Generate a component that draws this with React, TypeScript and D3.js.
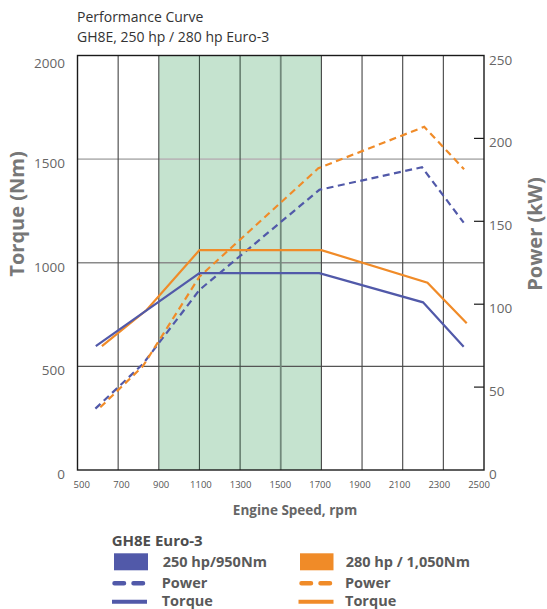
import React from "react";
import * as d3 from "d3";

const rpmTicks = [500, 700, 900, 1100, 1300, 1500, 1700, 1900, 2100, 2300, 2500];
const torqueTicks = [0, 500, 1000, 1500, 2000];
const powerTicks = [0, 50, 100, 150, 200, 250];
const bandRange = [900, 1700];

const torque250rpm = [590, 1100, 1690, 2200, 2400];
const torque250 = [598, 950, 950, 809, 595];
const power250rpm = [588, 822, 1100, 1690, 2195, 2400];
const power250 = [37, 64, 108.6, 169, 182.6, 149.2];

const torque280rpm = [620, 840, 1100, 1700, 2222, 2415];
const torque280 = [598, 772, 1061, 1061, 904, 708];
const power280rpm = [612, 822, 1100, 1685, 2206, 2402];
const power280 = [37.8, 62.7, 116.6, 182, 207, 181.4];

const BLUE = "#5159a9";
const ORANGE = "#f08b28";
const FONT = "'Open Sans', 'Noto Sans', sans-serif";

export default function App() {
  const W = 547, H = 609;
  const x = d3.scaleLinear().domain([500, 2500]).range([77.5, 484]);
  const xLab = d3.scaleLinear().domain([500, 2500]).range([81.7, 479]);
  const yT = d3.scaleLinear().domain([0, 2000]).range([470, 55.5]);
  const yP = d3.scaleLinear().domain([0, 250]).range([470, 55.5]);

  const lineT = d3.line<[number, number]>().x(d => x(d[0])).y(d => yT(d[1]));
  const lineP = d3.line<[number, number]>().x(d => x(d[0])).y(d => yP(d[1]));
  const zip = (a: number[], b: number[]) => a.map((v, i) => [v, b[i]] as [number, number]);

  const hGridStyle: Record<number, { c: string; w: number }> = {
    500: { c: "#555", w: 1.2 },
    1000: { c: "#8a8a8a", w: 1.3 },
    1500: { c: "#b8b8b8", w: 1.6 },
  };

  return (
    <svg width={W} height={H} style={{ position: "absolute", left: 0, top: 0, background: "#fff" }} fontFamily={FONT}>
      <text x={77} y={22} fontSize={14} fill="#333">Performance Curve</text>
      <text x={77} y={41.5} fontSize={14} fill="#333">GH8E, 250 hp / 280 hp Euro-3</text>

      {/* green band */}
      <rect x={x(bandRange[0])} y={yT(2000)} width={x(bandRange[1]) - x(bandRange[0])} height={yT(0) - yT(2000)} fill="#c5e3cf" />

      {/* horizontal grid */}
      {torqueTicks.filter(t => t > 0 && t < 2000).map(t => (
        <line key={"h" + t} x1={x(500)} x2={x(2500)} y1={yT(t)} y2={yT(t)} stroke={hGridStyle[t].c} strokeWidth={hGridStyle[t].w} />
      ))}

      {/* vertical grid */}
      {rpmTicks.filter(t => t > 500 && t < 2500).map(t => {
        const inBand = t > bandRange[0] && t < bandRange[1];
        return (
          <line key={"v" + t} x1={x(t)} x2={x(t)} y1={yT(2000)} y2={yT(0)}
            stroke={t === 1500 ? "#71897b" : inBand ? "#3d5246" : "#444"} strokeWidth={t === 1500 ? 1.8 : 1.1} />
        );
      })}

      {/* frame */}
      <rect x={x(500)} y={yT(2000)} width={x(2500) - x(500)} height={yT(0) - yT(2000)} fill="none" stroke="#1a1a1a" strokeWidth={1.4} />

      {/* right axis ticks */}
      {powerTicks.filter(t => t > 0 && t < 250).map(t => (
        <line key={"pt" + t} x1={x(2500) - 10} x2={x(2500)} y1={yP(t)} y2={yP(t)} stroke="#1a1a1a" strokeWidth={1.2} />
      ))}

      {/* lines */}
      <path d={lineP(zip(power250rpm, power250)) || ""} fill="none" stroke={BLUE} strokeWidth={2.2} strokeDasharray="7,4.5" />
      <path d={lineP(zip(power280rpm, power280)) || ""} fill="none" stroke={ORANGE} strokeWidth={2.2} strokeDasharray="7,4.5" />
      <path d={lineT(zip(torque280rpm, torque280)) || ""} fill="none" stroke={ORANGE} strokeWidth={2.2} />
      <path d={lineT(zip(torque250rpm, torque250)) || ""} fill="none" stroke={BLUE} strokeWidth={2.2} />

      {/* x tick labels */}
      {rpmTicks.map(t => (
        <text key={"xl" + t} x={xLab(t)} y={488} fontSize={9.5} fill="#555" textAnchor="middle">{t}</text>
      ))}
      <text x={295} y={515} fontSize={13.5} fontWeight={700} fill="#666" textAnchor="middle">Engine Speed, rpm</text>

      {/* left tick labels */}
      {torqueTicks.map(t => (
        <text key={"yl" + t} x={65} y={yT(t) + (t === 2000 ? 12 : 9)} fontSize={13.5} fill="#666" textAnchor="end">{t}</text>
      ))}
      <text transform="translate(24,214) rotate(-90)" fontSize={20} fontWeight={700} fill="#777" textAnchor="middle">Torque (Nm)</text>

      {/* right tick labels */}
      {powerTicks.map(t => (
        <text key={"pl" + t} x={489} y={yP(t) + 9} fontSize={13.5} fill="#666">{t}</text>
      ))}
      <text transform="translate(542,234) rotate(-90)" fontSize={20} fontWeight={700} fill="#777" textAnchor="middle">Power (kW)</text>

      {/* legend */}
      <text x={111.7} y={545.5} fontSize={15} fontWeight={700} fill="#4d4d4d">GH8E Euro-3</text>
      <rect x={114} y={553.3} width={34} height={17} fill={BLUE} />
      <text x={162.7} y={567} fontSize={14.5} fontWeight={700} fill="#5a5a5a">250 hp/950Nm</text>
      <rect x={300} y={553.3} width={33.5} height={17} fill={ORANGE} />
      <text x={345.7} y={567} fontSize={14.5} fontWeight={700} fill="#5a5a5a">280 hp / 1,050Nm</text>

      <line x1={114.5} x2={145} y1={583.3} y2={583.3} stroke={BLUE} strokeWidth={4.5} strokeLinecap="round" strokeDasharray="9.5,9.5" />
      <text x={161.7} y={588} fontSize={14.5} fontWeight={700} fill="#5a5a5a">Power</text>
      <line x1={301.5} x2={331.5} y1={583.3} y2={583.3} stroke={ORANGE} strokeWidth={4.5} strokeLinecap="round" strokeDasharray="9.5,9.5" />
      <text x={345} y={588} fontSize={14.5} fontWeight={700} fill="#5a5a5a">Power</text>

      <line x1={112} x2={147} y1={601.7} y2={601.7} stroke={BLUE} strokeWidth={4} />
      <text x={161.7} y={606} fontSize={14.5} fontWeight={700} fill="#5a5a5a">Torque</text>
      <line x1={298.5} x2={333.5} y1={601.7} y2={601.7} stroke={ORANGE} strokeWidth={4} />
      <text x={345} y={606} fontSize={14.5} fontWeight={700} fill="#5a5a5a">Torque</text>
    </svg>
  );
}
